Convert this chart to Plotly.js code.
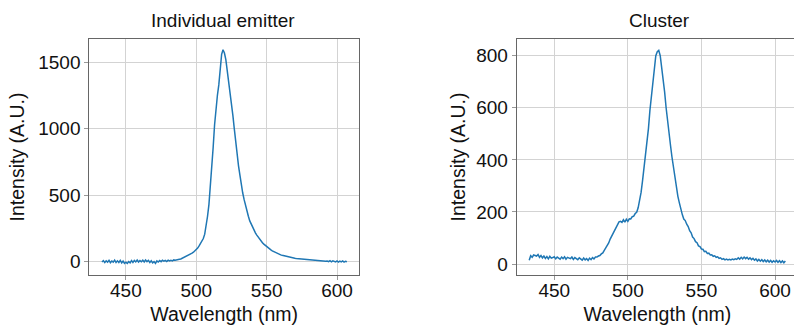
<!DOCTYPE html>
<html>
<head>
<meta charset="utf-8">
<script src="https://cdn.plot.ly/plotly-3.0.1.min.js"></script>
<style>
html,body{margin:0;padding:0;overflow:hidden;background:#fff;}
#chart{width:810px;height:325px;}
</style>
</head>
<body>
<div id="chart"></div>
<script>
// Wavelength grid (nm)
var wavelength = [
433,434,435,436,437,438,439,440,441,442,443,444,445,446,447,448,449,450,451,452,
453,454,455,456,457,458,459,460,461,462,463,464,465,466,467,468,469,470,471,472,
473,474,475,476,477,478,479,480,481,482,483,484,485,486,487,488,489,490,491,492,
493,494,495,496,497,498,499,500,501,502,503,504,505,506,507,508,509,510,511,512,
513,514,515,516,517,518,519,520,521,522,523,524,525,526,527,528,529,530,531,532,
533,534,535,536,537,538,539,540,541,542,543,544,545,546,547,548,549,550,551,552,
553,554,555,556,557,558,559,560,561,562,563,564,565,566,567,568,569,570,571,572,
573,574,575,576,577,578,579,580,581,582,583,584,585,586,587,588,589,590,591,592,
593,594,595,596,597,598,599,600,601,602,603,604,605,606,607
];

// Individual emitter intensity (A.U.)
var emitterIntensity = [
-5,6,-9,4,-6,8,-10,3,-6,9,-9,4,-8,7,-12,2,-15,-6,-16,-2,
-11,6,-8,7,-4,10,-5,6,-3,9,-5,11,-2,8,-8,4,-12,-2,-15,4,
-5,7,-2,9,1,7,-1,9,3,8,4,11,8,12,12,16,18,23,27,33,
38,45,50,56,62,69,78,89,100,116,132,151,172,205,260,340,430,560,700,860,
1030,1160,1250,1330,1450,1560,1595,1570,1520,1440,1360,1290,1200,1100,1000,890,800,720,650,575,
515,465,415,375,340,305,280,258,235,215,198,182,167,153,141,130,120,110,101,93,
86,79,73,67,62,57,53,49,46,43,40,37,34,32,30,28,26,24,22,21,
19,18,16,15,13,12,11,10,9,8,7,6,5,5,4,3,4,2,3,1,
3,-2,5,-3,4,-1,-4,3,-5,2,-4,3,-6,1,-3
];

// Cluster intensity (A.U.)
var clusterIntensity = [
15,32,26,35,33,31,37,26,33,24,31,22,29,20,30,23,25,28,20,27,
23,19,27,21,28,19,26,24,21,27,18,25,21,17,24,20,15,23,16,21,
14,23,17,25,20,27,27,31,33,39,43,53,61,73,81,96,107,123,134,146,
151,162,164,160,170,161,172,164,174,173,182,184,194,199,216,240,275,320,365,420,
470,520,590,650,710,760,800,815,820,800,760,710,660,600,545,500,455,410,370,330,
295,260,235,205,190,173,167,153,144,128,120,104,98,86,82,70,67,58,57,48,
49,41,42,35,36,30,32,26,28,22,24,18,21,16,19,16,18,16,19,17,
20,18,24,19,26,20,27,21,26,19,24,17,22,15,20,12,18,11,17,10,
16,9,15,8,14,7,13,8,14,7,13,6,12,5,12
];

var xTickVals = [450, 500, 550, 600];
var titles = ["Individual emitter", "Cluster"];
var xTitle = "Wavelength (nm)";
var yTitle = "Intensity (A.U.)";

var W = 810, H = 325;
var FONT = '"Liberation Sans", Arial, Helvetica, sans-serif';
var lineColor = '#1f77b4';

function axisStyle(extra){
  var a = {
    showline:true, mirror:true, linecolor:'#666', linewidth:1,
    showgrid:true, gridcolor:'#d3d3d3', gridwidth:1,
    zeroline:false,
    ticks:'outside', ticklen:4, tickcolor:'#999', tickwidth:1,
    tickfont:{family:FONT, size:19, color:'#111'}
  };
  for (var k in extra) a[k] = extra[k];
  return a;
}

var traces = [
  {x: wavelength, y: emitterIntensity, type:'scatter', mode:'lines',
   line:{color:lineColor, width:1.5}, xaxis:'x', yaxis:'y', hoverinfo:'skip'},
  {x: wavelength, y: clusterIntensity, type:'scatter', mode:'lines',
   line:{color:lineColor, width:1.5}, xaxis:'x2', yaxis:'y2', hoverinfo:'skip'}
];

var yb = (H-275.3)/H, yt = (H-38.7)/H;
var titleFont = {family:FONT,size:19.5,color:'#111'};

var layout = {
  width: W, height: H,
  margin:{l:0,r:0,t:0,b:0},
  paper_bgcolor:'#fff', plot_bgcolor:'#fff',
  showlegend:false,
  font:{family:FONT, color:'#111'},
  xaxis: axisStyle({domain:[89.3/W, 359/W], range:[424, 615.6], tickvals:xTickVals,
    ticklabelstandoff:-6,
    title:{text:xTitle, font:titleFont, standoff:7}, anchor:'y'}),
  yaxis: axisStyle({domain:[yb, yt], range:[-105, 1678], tickvals:[0,500,1000,1500],
    title:{text:yTitle, font:titleFont, standoff:8}, anchor:'x'}),
  xaxis2: axisStyle({domain:[516.7/W, 798/W], range:[424.5, 615.6], tickvals:xTickVals,
    ticklabelstandoff:-6,
    title:{text:xTitle, font:titleFont, standoff:7}, anchor:'y2'}),
  yaxis2: axisStyle({domain:[yb, yt], range:[-43, 865], tickvals:[0,200,400,600,800],
    title:{text:yTitle, font:titleFont, standoff:5}, anchor:'x2'}),
  annotations:[
    {text:titles[0], xref:'paper', yref:'paper', x:222.7/W, y:(H-20)/H,
     xanchor:'center', yanchor:'middle', showarrow:false, font:{family:FONT,size:19,color:'#111'}},
    {text:titles[1], xref:'paper', yref:'paper', x:659/W, y:(H-20)/H,
     xanchor:'center', yanchor:'middle', showarrow:false, font:{family:FONT,size:19,color:'#111'}}
  ]
};

Plotly.newPlot('chart', traces, layout, {staticPlot:true, displayModeBar:false});
</script>
</body>
</html>
